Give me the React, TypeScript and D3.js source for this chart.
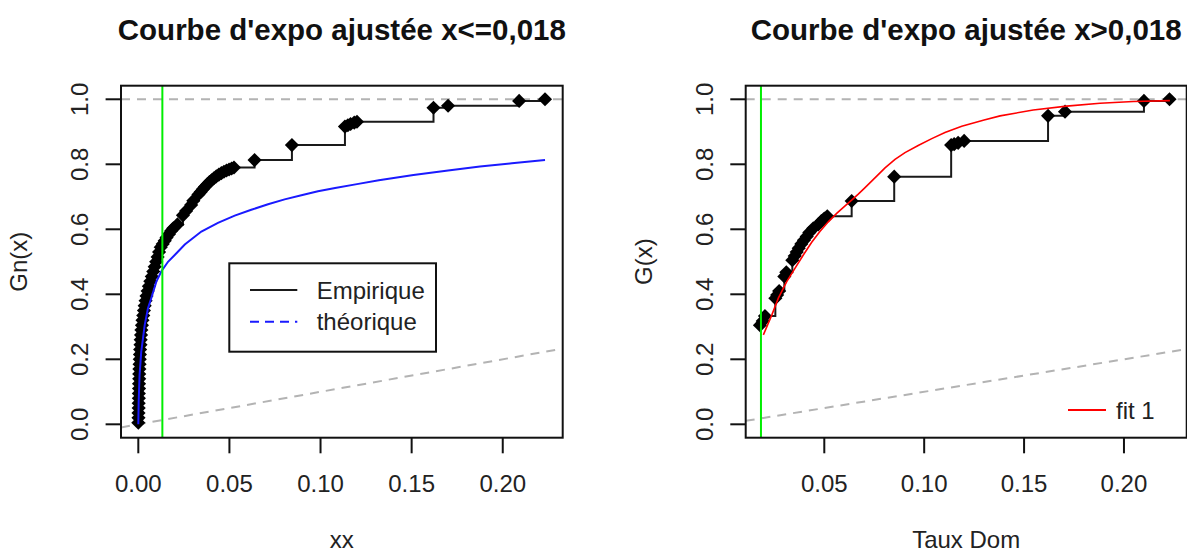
import React, { useEffect, useRef } from 'react';
import * as d3 from 'd3';

const WIDTH = 1187;
const HEIGHT = 554;

// left panel: empirical points (x, Gn(x))
const leftEmpX = [
  0.0000, 0.0001, 0.0001, 0.0002, 0.0002, 0.0003, 0.0003, 0.0004, 0.0004, 0.0005,
  0.0005, 0.0006, 0.0007, 0.0008, 0.0009, 0.0010, 0.0012, 0.0013, 0.0015, 0.0017,
  0.0020, 0.0023, 0.0027, 0.0031, 0.0035, 0.0040, 0.0045, 0.0051, 0.0058, 0.0066,
  0.0074, 0.0082, 0.0090, 0.0098, 0.0106, 0.0114, 0.0123, 0.0134, 0.0145, 0.0155,
  0.0168, 0.0180, 0.0192, 0.0215, 0.0245, 0.0262, 0.0290, 0.0302, 0.0330, 0.0342,
  0.0354, 0.0366, 0.0378, 0.0390, 0.0402, 0.0415, 0.0428, 0.0442, 0.0456, 0.0470,
  0.0484, 0.0498, 0.0512, 0.0525, 0.0638, 0.0843, 0.1134, 0.1150, 0.1165, 0.1185,
  0.1200, 0.1620, 0.1700, 0.2090, 0.2232,
];
const leftEmpY = [
  0.005, 0.020, 0.035, 0.050, 0.065, 0.080, 0.095, 0.110, 0.125, 0.140,
  0.155, 0.170, 0.185, 0.200, 0.215, 0.230, 0.245, 0.260, 0.275, 0.290,
  0.305, 0.320, 0.335, 0.350, 0.365, 0.380, 0.395, 0.410, 0.425, 0.440,
  0.455, 0.470, 0.485, 0.500, 0.515, 0.530, 0.545, 0.555, 0.565, 0.575,
  0.585, 0.595, 0.603, 0.615, 0.643, 0.656, 0.675, 0.688, 0.707, 0.715,
  0.723, 0.731, 0.738, 0.745, 0.751, 0.757, 0.763, 0.768, 0.773, 0.777,
  0.781, 0.784, 0.787, 0.790, 0.813, 0.859, 0.916, 0.920, 0.924, 0.928,
  0.931, 0.974, 0.980, 0.995, 1.000,
];

// left panel: theoretical curve
const leftTheoX = [
  0.0000, 0.0002, 0.0007, 0.0016, 0.0035, 0.0053, 0.0071, 0.0099, 0.0126, 0.0163,
  0.0200, 0.0255, 0.0346, 0.0437, 0.0529, 0.0620, 0.0712, 0.0803, 0.0895, 0.0986,
  0.1080, 0.1200, 0.1320, 0.1510, 0.1700, 0.1875, 0.2050, 0.2232,
];
const leftTheoY = [
  0.000, 0.070, 0.152, 0.223, 0.305, 0.357, 0.388, 0.439, 0.470, 0.500,
  0.521, 0.553, 0.593, 0.620, 0.642, 0.660, 0.677, 0.692, 0.705, 0.717,
  0.727, 0.739, 0.751, 0.767, 0.781, 0.793, 0.803, 0.813,
];

// right panel: empirical points (x, G(x))
const rightEmpX = [
  0.0178, 0.0192, 0.0203, 0.0255, 0.0264, 0.0274, 0.0300, 0.0310, 0.0340, 0.0352,
  0.0362, 0.0372, 0.0385, 0.0398, 0.0412, 0.0425, 0.0445, 0.0470, 0.0485, 0.0500,
  0.0515, 0.0637, 0.0850, 0.1135, 0.1150, 0.1170, 0.1200, 0.1620, 0.1705, 0.2100,
  0.2228,
];
const rightEmpY = [
  0.305, 0.318, 0.333, 0.388, 0.398, 0.410, 0.455, 0.468, 0.505, 0.518,
  0.530, 0.542, 0.555, 0.566, 0.578, 0.590, 0.603, 0.615, 0.625, 0.633,
  0.640, 0.687, 0.762, 0.859, 0.862, 0.866, 0.872, 0.949, 0.962, 0.995,
  1.000,
];

// right panel: fitted exponential
const fitX = [
  0.0195, 0.0237, 0.0270, 0.0312, 0.0353, 0.0395, 0.0437, 0.0478, 0.0520, 0.0562,
  0.0604, 0.0637, 0.0670, 0.0704, 0.0737, 0.0770, 0.0804, 0.0854, 0.0904, 0.0970,
  0.1038, 0.1104, 0.1188, 0.1300, 0.1380, 0.1546, 0.1713, 0.1880, 0.2047, 0.2230,
];
const fitY = [
  0.275, 0.336, 0.388, 0.439, 0.480, 0.521, 0.560, 0.593, 0.623, 0.649,
  0.672, 0.690, 0.708, 0.728, 0.748, 0.768, 0.789, 0.815, 0.836, 0.858,
  0.879, 0.898, 0.917, 0.936, 0.949, 0.967, 0.979, 0.988, 0.993, 0.996,
];

const seuilLeft = 0.0132;
const seuilRight = 0.0183;

const xTicksLeft = [0, 0.05, 0.1, 0.15, 0.2];
const xTicksRight = [0.05, 0.1, 0.15, 0.2];
const yTicks = [0, 0.2, 0.4, 0.6, 0.8, 1];

const titles = ["Courbe d'expo ajustée x<=0,018", "Courbe d'expo ajustée x>0,018"];
const xTitles = ['xx', 'Taux Dom'];
const yTitles = ['Gn(x)', 'G(x)'];
const legendLeft = ['Empirique', 'théorique'];
const legendRight = ['fit 1'];

const TOP = 85.7;
const BOTTOM = 437.7;
const FONT = 'Liberation Sans, Arial, sans-serif';

type Pt = { x: number; y: number };
const zip = (xs: number[], ys: number[]): Pt[] => xs.map((x, i) => ({ x, y: ys[i] }));

const App: React.FC = () => {
  const svgRef = useRef<SVGSVGElement>(null);

  useEffect(() => {
    const svg = d3.select(svgRef.current);
    svg.selectAll('*').remove();

    const yScale = d3.scaleLinear().domain([-0.0412, 1.0418]).range([BOTTOM, TOP]);

    const panels = [
      {
        left: 121, right: 562.7, xDomain: [-0.0095, 0.2329], ticks: xTicksLeft,
        emp: zip(leftEmpX, leftEmpY), curve: zip(leftTheoX, leftTheoY), curveColor: '#1a1aff',
        seuil: seuilLeft,
      },
      {
        left: 745.7, right: 1186.7, xDomain: [0.01066, 0.2314], ticks: xTicksRight,
        emp: zip(rightEmpX, rightEmpY), curve: zip(fitX, fitY), curveColor: '#ff0000',
        seuil: seuilRight,
      },
    ];

    panels.forEach((p, idx) => {
      const xScale = d3.scaleLinear().domain(p.xDomain).range([p.left, p.right]);
      const cx = (p.left + p.right) / 2;

      const clipId = `clip-${idx}`;
      svg.append('clipPath').attr('id', clipId)
        .append('rect')
        .attr('x', p.left).attr('y', TOP)
        .attr('width', p.right - p.left).attr('height', BOTTOM - TOP);

      const g = svg.append('g').attr('clip-path', `url(#${clipId})`);

      // reference lines (gray dashed): y = 1 and y = x
      g.append('line')
        .attr('x1', p.left).attr('x2', p.right)
        .attr('y1', yScale(1)).attr('y2', yScale(1))
        .attr('stroke', '#b3b3b3').attr('stroke-width', 2).attr('stroke-dasharray', '9,7');
      g.append('line')
        .attr('x1', xScale(p.xDomain[0])).attr('y1', yScale(p.xDomain[0]))
        .attr('x2', xScale(p.xDomain[1])).attr('y2', yScale(p.xDomain[1]))
        .attr('stroke', '#b3b3b3').attr('stroke-width', 2).attr('stroke-dasharray', '9,7');

      // empirical step function
      const step = d3.line<Pt>().x(d => xScale(d.x)).y(d => yScale(d.y)).curve(d3.curveStepAfter);
      g.append('path')
        .datum(p.emp)
        .attr('fill', 'none')
        .attr('stroke', '#1a1a1a')
        .attr('stroke-width', 2)
        .attr('d', step);

      const diamond = d3.symbol().type(d3.symbolSquare).size(100)();
      g.selectAll('.pt')
        .data(p.emp)
        .enter().append('path')
        .attr('class', 'pt')
        .attr('d', diamond)
        .attr('transform', d => `translate(${xScale(d.x)},${yScale(d.y)}) rotate(45)`)
        .attr('fill', '#000');

      // theoretical / fitted curve
      const line = d3.line<Pt>().x(d => xScale(d.x)).y(d => yScale(d.y));
      g.append('path')
        .datum(p.curve)
        .attr('fill', 'none')
        .attr('stroke', p.curveColor)
        .attr('stroke-width', idx === 0 ? 2 : 1.6)
        .attr('d', line);

      // threshold
      g.append('line')
        .attr('x1', xScale(p.seuil)).attr('x2', xScale(p.seuil))
        .attr('y1', TOP).attr('y2', BOTTOM)
        .attr('stroke', '#00ee00').attr('stroke-width', 2);

      // box
      svg.append('rect')
        .attr('x', p.left).attr('y', TOP)
        .attr('width', p.right - p.left).attr('height', BOTTOM - TOP)
        .attr('fill', 'none').attr('stroke', '#111').attr('stroke-width', 2);

      // x axis
      const xa = svg.append('g');
      xa.selectAll('line')
        .data(p.ticks)
        .enter().append('line')
        .attr('x1', d => xScale(d)).attr('x2', d => xScale(d))
        .attr('y1', BOTTOM).attr('y2', BOTTOM + 15.6)
        .attr('stroke', '#111').attr('stroke-width', 2);
      xa.selectAll('text')
        .data(p.ticks)
        .enter().append('text')
        .attr('x', d => xScale(d)).attr('y', 491.5)
        .attr('text-anchor', 'middle')
        .style('font-family', FONT).style('font-size', '24px').style('fill', '#222')
        .text(d => d3.format('.2f')(d));

      // y axis
      const ya = svg.append('g');
      ya.selectAll('line')
        .data(yTicks)
        .enter().append('line')
        .attr('x1', p.left - 15.4).attr('x2', p.left)
        .attr('y1', d => yScale(d)).attr('y2', d => yScale(d))
        .attr('stroke', '#111').attr('stroke-width', 2);
      ya.selectAll('text')
        .data(yTicks)
        .enter().append('text')
        .attr('transform', d => `translate(${p.left - 33},${yScale(d)}) rotate(-90)`)
        .attr('text-anchor', 'middle')
        .style('font-family', FONT).style('font-size', '24px').style('fill', '#222')
        .text(d => d3.format('.1f')(d));

      // titles
      svg.append('text')
        .attr('x', cx).attr('y', 40)
        .attr('text-anchor', 'middle')
        .style('font-family', FONT).style('font-size', '29.5px').style('font-weight', 'bold')
        .style('fill', '#111')
        .text(titles[idx]);
      svg.append('text')
        .attr('x', cx).attr('y', 548)
        .attr('text-anchor', 'middle')
        .style('font-family', FONT).style('font-size', '24px').style('fill', '#222')
        .text(xTitles[idx]);
      svg.append('text')
        .attr('transform', `translate(${p.left - 94},${(TOP + BOTTOM) / 2}) rotate(-90)`)
        .attr('text-anchor', 'middle')
        .style('font-family', FONT).style('font-size', '24px').style('fill', '#222')
        .text(yTitles[idx]);
    });

    // legend, left panel
    const lg = svg.append('g');
    lg.append('rect')
      .attr('x', 229.3).attr('y', 263.3).attr('width', 206.7).attr('height', 88.4)
      .attr('fill', 'white').attr('stroke', '#111').attr('stroke-width', 2);
    const legColors = ['#1a1a1a', '#1a1aff'];
    legendLeft.forEach((name, i) => {
      const y = 290 + i * 31.7;
      lg.append('line')
        .attr('x1', 250).attr('x2', 297.3).attr('y1', y).attr('y2', y)
        .attr('stroke', legColors[i]).attr('stroke-width', 2)
        .attr('stroke-dasharray', i === 1 ? '9,6' : null);
      lg.append('text')
        .attr('x', 316.7).attr('y', y + 8.5)
        .style('font-family', FONT).style('font-size', '24px').style('fill', '#222')
        .text(name);
    });

    // legend, right panel
    legendRight.forEach((name, i) => {
      const y = 410 + i * 31.7;
      svg.append('line')
        .attr('x1', 1068).attr('x2', 1106).attr('y1', y).attr('y2', y)
        .attr('stroke', '#ff0000').attr('stroke-width', 2);
      svg.append('text')
        .attr('x', 1116).attr('y', y + 8.5)
        .style('font-family', FONT).style('font-size', '24px').style('fill', '#222')
        .text(name);
    });
  }, []);

  return (
    <svg
      ref={svgRef}
      width={WIDTH}
      height={HEIGHT}
      style={{ position: 'absolute', left: 0, top: 0, background: '#fff' }}
    />
  );
};

export default App;
